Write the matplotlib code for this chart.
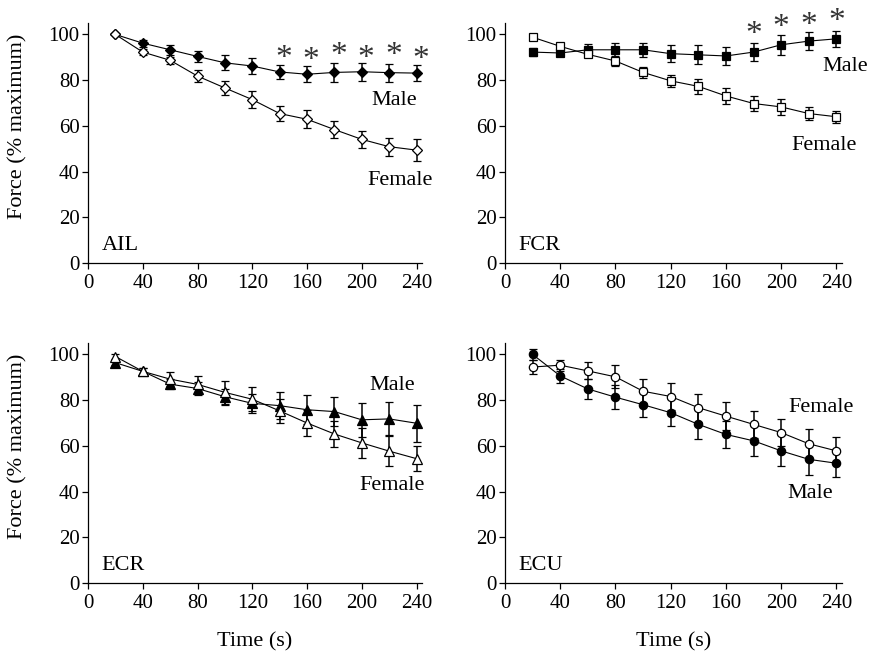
import matplotlib
matplotlib.use("Agg")
import matplotlib.pyplot as plt

plt.rcParams["font.family"] = ["Liberation Serif", "DejaVu Serif"]

time_s = [20, 40, 60, 80, 100, 120, 140, 160, 180, 200, 220, 240]

# AIL
ail_male = [100, 96.2, 93.3, 90.4, 87.6, 86.2, 83.6, 82.6, 83.4, 83.7, 83.3, 83.1]
ail_male_err = [0, 1.5, 2.2, 2.4, 3.3, 3.3, 3.1, 3.5, 4.0, 4.0, 3.9, 3.4]
ail_female = [100, 92.3, 88.7, 81.8, 76.6, 71.5, 65.4, 62.9, 58.4, 54.1, 50.9, 49.4]
ail_female_err = [0, 1.2, 1.6, 2.5, 3.1, 3.6, 3.3, 3.9, 3.6, 3.8, 3.9, 4.9]
ail_star_x = [140, 160, 180, 200, 220, 240]

# FCR
fcr_male = [92.3, 91.9, 93.3, 93.3, 93.3, 91.6, 91.1, 90.6, 92.3, 95.5, 97.1, 98.1]
fcr_male_err = [1.7, 1.5, 2.5, 3.0, 3.0, 3.8, 4.1, 4.0, 4.1, 4.4, 4.0, 3.5]
fcr_female = [98.8, 94.8, 91.3, 88.4, 83.4, 79.7, 77.3, 73.1, 69.8, 68.3, 65.4, 64.0]
fcr_female_err = [0.5, 1.0, 1.0, 2.0, 2.5, 2.7, 3.2, 3.3, 3.1, 3.5, 3.0, 2.7]
fcr_star_x = [180, 200, 220, 240]

# ECR
ecr_male = [96.4, 92.6, 87.0, 85.1, 81.5, 78.6, 77.6, 75.8, 75.0, 71.4, 71.8, 69.9]
ecr_male_err = [1.0, 1.5, 2.2, 3.0, 3.5, 4.3, 6.0, 6.3, 6.5, 7.4, 7.2, 8.0]
ecr_female = [99.1, 92.6, 89.2, 86.9, 83.4, 80.4, 75.3, 70.0, 65.2, 61.3, 57.7, 54.4]
ecr_female_err = [1.0, 1.5, 3.0, 3.5, 5.0, 5.2, 5.2, 5.5, 5.7, 6.6, 6.5, 5.6]

# ECU
ecu_male = [100, 90.6, 84.9, 81.3, 78.0, 74.5, 69.4, 65.0, 62.2, 57.8, 54.1, 52.4]
ecu_male_err = [2.6, 3.2, 4.5, 5.3, 5.4, 5.8, 6.3, 6.0, 6.5, 6.8, 6.8, 6.1]
ecu_female = [94.5, 95.3, 92.8, 90.2, 83.9, 81.6, 76.7, 73.0, 69.4, 65.8, 60.9, 57.8]
ecu_female_err = [3.0, 2.4, 3.7, 5.0, 5.3, 6.0, 6.1, 6.0, 6.0, 6.0, 6.3, 5.9]

fig = plt.figure(figsize=(8.74, 6.53), dpi=100)

H = 0.3675
ax_ail = fig.add_axes([0.1007, 0.5972, 0.3822, H])
ax_fcr = fig.add_axes([0.5778, 0.5972, 0.3856, H])
ax_ecr = fig.add_axes([0.1007, 0.1072, 0.3822, H])
ax_ecu = fig.add_axes([0.5778, 0.1072, 0.3856, H])

TXT = 16


def series(ax, y, err, marker, filled, ms):
    ax.errorbar(time_s, y, yerr=err, color="black", lw=0.8, elinewidth=1.1,
                capsize=3.2, capthick=1.1, marker=marker, ms=ms,
                mfc="black" if filled else "white", mec="black", mew=0.9,
                clip_on=False, zorder=3 if filled else 4)


def style(ax, name, ylabel=False, xlabel=False):
    ax.set_xlim(0, 244)
    ax.set_ylim(0, 105)
    ax.set_xticks([0, 40, 80, 120, 160, 200, 240])
    ax.set_yticks([0, 20, 40, 60, 80, 100])
    for s in ("top", "right"):
        ax.spines[s].set_visible(False)
    ax.spines["left"].set_linewidth(0.9)
    ax.spines["bottom"].set_linewidth(0.9)
    ax.tick_params(direction="out", length=4, width=0.9, labelsize=15)
    ax.tick_params(axis="x", pad=4)
    ax.tick_params(axis="y", pad=2)
    ax.text(10, 7.5, name, fontsize=TXT, ha="left", va="center")
    if ylabel:
        ax.set_ylabel("Force (% maximum)", fontsize=TXT, va="center")
        ax.yaxis.set_label_coords(-0.21, 0.57)
    if xlabel:
        ax.set_xlabel("Time (s)", fontsize=TXT, va="center")
        ax.xaxis.set_label_coords(0.5, -0.245)


def stars(ax, xs, ys):
    for x, yy in zip(xs, ys):
        ax.text(x, yy, "*", fontsize=24, ha="center", va="center",
                color="#333333", clip_on=False)


series(ax_ail, ail_female, ail_female_err, "D", False, 5.5)
series(ax_ail, ail_male, ail_male_err, "D", True, 5.5)
style(ax_ail, "AIL", ylabel=True)
ax_ail.text(224, 71, "Male", fontsize=TXT, ha="center", va="center")
ax_ail.text(228, 36, "Female", fontsize=TXT, ha="center", va="center")
stars(ax_ail, [x + 3 for x in ail_star_x], [89.5, 88.5, 90.5, 89.5, 90.5, 89])

series(ax_fcr, fcr_female, fcr_female_err, "s", False, 6)
series(ax_fcr, fcr_male, fcr_male_err, "s", True, 6)
style(ax_fcr, "FCR")
ax_fcr.text(246, 86, "Male", fontsize=TXT, ha="center", va="center")
ax_fcr.text(231, 51.5, "Female", fontsize=TXT, ha="center", va="center")
stars(ax_fcr, fcr_star_x, [100, 103, 104, 105.5])

series(ax_ecr, ecr_female, ecr_female_err, "^", False, 6.5)
series(ax_ecr, ecr_male, ecr_male_err, "^", True, 6.5)
style(ax_ecr, "ECR", ylabel=True, xlabel=True)
ax_ecr.text(222, 86.5, "Male", fontsize=TXT, ha="center", va="center")
ax_ecr.text(222, 42.5, "Female", fontsize=TXT, ha="center", va="center")

series(ax_ecu, ecu_female, ecu_female_err, "o", False, 6)
series(ax_ecu, ecu_male, ecu_male_err, "o", True, 6)
style(ax_ecu, "ECU", xlabel=True)
ax_ecu.text(229, 77, "Female", fontsize=TXT, ha="center", va="center")
ax_ecu.text(221, 39, "Male", fontsize=TXT, ha="center", va="center")

fig.savefig("out.png", dpi=100)
